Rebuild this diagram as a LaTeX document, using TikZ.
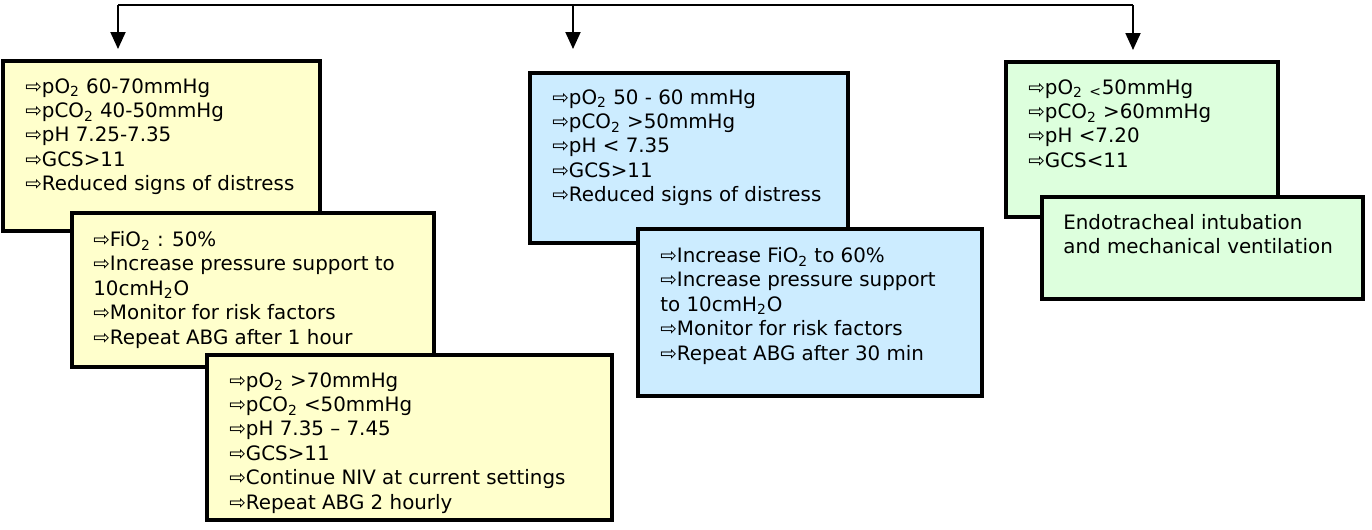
\documentclass[tikz,border=0pt]{standalone}
\usepackage{fontspec}
\setmainfont{DejaVu Sans}
\usetikzlibrary{positioning,arrows.meta}
\usepackage{xcolor}
\definecolor{lowyellow}{HTML}{FFFFCC}
\definecolor{midblue}{HTML}{CCECFF}
\definecolor{highgreen}{HTML}{DDFFDD}
\newcommand{\itemarrow}{⇨}

\begin{document}
\begin{tikzpicture}[x=0.02cm, y=0.02cm, >={Triangle[length=0.34cm,width=0.3cm]},
	box/.style={draw, line width=1.9pt, anchor=north west, inner sep=0pt, outer sep=0pt},
	low/.style={box, fill=lowyellow},
	mid/.style={box, fill=midblue},
	high/.style={box, fill=highgreen},
	txt/.style={anchor=north west, align=left, inner sep=0pt, font=\fontsize{11.3}{13.9}\selectfont},
	link/.style={->, line width=1.1pt, shorten >=0.24cm}]
	\useasboundingbox (0,0) rectangle (1372,-529);
	% top branch
	\coordinate (tl) at (118,-5);
	\coordinate (tm) at (573,-5);
	\coordinate (tr) at (1133,-5);
	\draw[line width=1.1pt] (tl) -- (tr);
	% left column
	\node[low, minimum width=6.34cm, minimum height=3.4cm] (lowA) at (3,-61) {};
	\node[txt] (lowAtxt) [below right=0.34cm and 0.44cm of lowA.north west] {\itemarrow pO\textsubscript{2} 60-70mmHg\\ \itemarrow pCO\textsubscript{2} 40-50mmHg\\ \itemarrow pH 7.25-7.35\\ \itemarrow GCS>11\\ \itemarrow Reduced signs of distress};
	\node[low, minimum width=7.24cm, minimum height=3.08cm] (lowB) at (72,-213) {};
	\node[txt] (lowBtxt) [below right=0.36cm and 0.42cm of lowB.north west] {\itemarrow FiO\textsubscript{2} : 50\%\\ \itemarrow Increase pressure support to\\ 10cmH\textsubscript{2}O\\ \itemarrow Monitor for risk factors\\ \itemarrow Repeat ABG after 1 hour};
	\node[low, minimum width=8.1cm, minimum height=3.3cm] (lowC) at (207,-355) {};
	\node[txt] (lowCtxt) [below right=0.34cm and 0.44cm of lowC.north west] {\itemarrow pO\textsubscript{2} >70mmHg\\ \itemarrow pCO\textsubscript{2} <50mmHg\\ \itemarrow pH 7.35 – 7.45\\ \itemarrow GCS>11\\ \itemarrow Continue NIV at current settings\\ \itemarrow Repeat ABG 2 hourly};
	% middle column
	\node[mid, minimum width=6.36cm, minimum height=3.4cm] (midA) at (530,-73) {};
	\node[txt] (midAtxt) [below right=0.32cm and 0.44cm of midA.north west] {\itemarrow pO\textsubscript{2} 50 - 60 mmHg\\ \itemarrow pCO\textsubscript{2} >50mmHg\\ \itemarrow pH < 7.35\\ \itemarrow GCS>11\\ \itemarrow Reduced signs of distress};
	\node[mid, minimum width=6.88cm, minimum height=3.34cm] (midB) at (638,-229) {};
	\node[txt] (midBtxt) [below right=0.36cm and 0.44cm of midB.north west] {\itemarrow Increase FiO\textsubscript{2} to 60\%\\ \itemarrow Increase pressure support\\ to 10cmH\textsubscript{2}O\\ \itemarrow Monitor for risk factors\\ \itemarrow Repeat ABG after 30 min};
	% right column
	\node[high, minimum width=5.44cm, minimum height=3.1cm] (highA) at (1006,-62) {};
	\node[txt] (highAtxt) [below right=0.34cm and 0.44cm of highA.north west] {\itemarrow pO\textsubscript{2} \textsubscript{<}50mmHg\\ \itemarrow pCO\textsubscript{2} >60mmHg\\ \itemarrow pH <7.20\\ \itemarrow GCS<11};
	\node[high, minimum width=6.42cm, minimum height=2.04cm] (highB) at (1042,-197) {};
	\node[txt] (highBtxt) [below right=0.34cm and 0.42cm of highB.north west] {Endotracheal intubation\\ and mechanical ventilation};
	% arrows
	\draw[link] (tl) -- (tl |- lowA.north);
	\draw[link, shorten >=0.48cm] (tm) -- (tm |- midA.north);
	\draw[link] (tr) -- (tr |- highA.north);
\end{tikzpicture}
\end{document}
